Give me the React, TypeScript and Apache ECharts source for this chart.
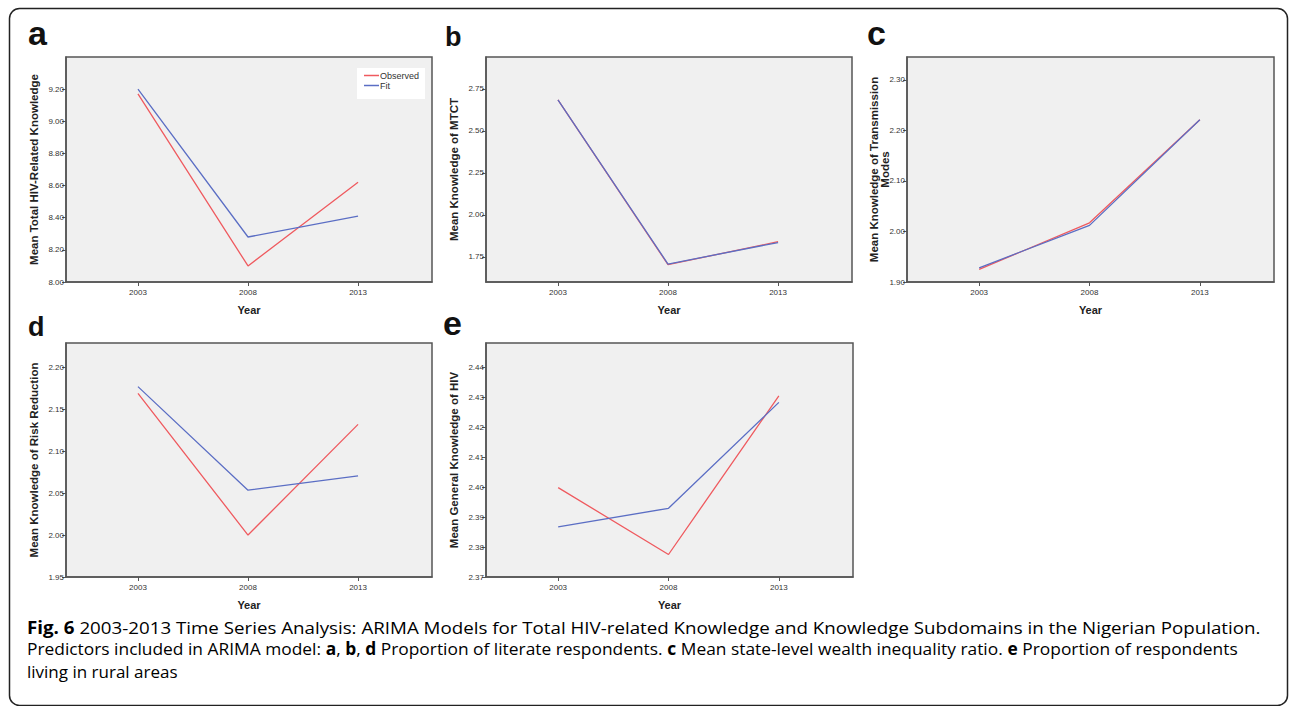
import React, { useEffect, useRef } from "react";
import * as echarts from "echarts";

const years = [2003, 2008, 2013];

const aObserved = [9.17, 8.1, 8.62];
const aFit = [9.2, 8.28, 8.41];
const bObserved = [2.685, 1.703, 1.84];
const bFit = [2.685, 1.707, 1.835];
const cObserved = [1.925, 2.017, 2.221];
const cFit = [1.928, 2.012, 2.221];
const dObserved = [2.169, 2.0, 2.132];
const dFit = [2.177, 2.0535, 2.0705];
const eObserved = [2.3998, 2.3775, 2.4304];
const eFit = [2.3867, 2.3929, 2.4282];

const aTicks = [8.0, 8.2, 8.4, 8.6, 8.8, 9.0, 9.2];
const bTicks = [1.75, 2.0, 2.25, 2.5, 2.75];
const cTicks = [1.9, 2.0, 2.1, 2.2, 2.3];
const dTicks = [1.95, 2.0, 2.05, 2.1, 2.15, 2.2];
const eTicks = [2.37, 2.38, 2.39, 2.4, 2.41, 2.42, 2.43, 2.44];

const panelLetters = ["a", "b", "c", "d", "e"];
const yTitles = [
  "Mean Total HIV-Related Knowledge",
  "Mean Knowledge of MTCT",
  "Mean Knowledge of Transmission\nModes",
  "Mean Knowledge of Risk Reduction",
  "Mean General Knowledge of HIV",
];
const xTitle = "Year";
const seriesNames = ["Observed", "Fit"];

// caption lines: [text, bold]
const captionLine1: [string, boolean][] = [
  ["Fig. 6", true],
  [" 2003-2013 Time Series Analysis: ARIMA Models for Total HIV-related Knowledge and Knowledge Subdomains in the Nigerian Population.", false],
];
const captionLine2: [string, boolean][] = [
  ["Predictors included in ARIMA model: ", false],
  ["a", true],
  [", ", false],
  ["b", true],
  [", ", false],
  ["d", true],
  [" Proportion of literate respondents. ", false],
  ["c", true],
  [" Mean state-level wealth inequality ratio. ", false],
  ["e", true],
  [" Proportion of respondents", false],
];
const captionLine3: [string, boolean][] = [["living in rural areas", false]];

const FONT = 'Arial, "Liberation Sans", sans-serif';
const CAP_FONT = '"Open Sans", sans-serif';
const CAP_SIZE = 17;
const RED = "#ef5a5f";
const BLUE = "#5b6ec4";
const FRAME = "#555";

function buildLine(segs: [string, boolean][], target: number | null) {
  const canvas = document.createElement("canvas");
  const ctx = canvas.getContext("2d")!;
  let natural = 0;
  let out = "";
  for (const [txt, b] of segs) {
    ctx.font = `${b ? "bold " : ""}${CAP_SIZE}px ${CAP_FONT}`;
    natural += ctx.measureText(txt).width;
    out += b ? `{b|${txt}}` : `{n|${txt}}`;
  }
  const scale = target && natural > 0 ? target / natural : 1;
  return { text: out, scale };
}

export default function App() {
  const ref = useRef<HTMLDivElement>(null);
  useEffect(() => {
    document.body.style.margin = "0";
    const chart = echarts.init(ref.current!, null, { renderer: "svg" });

    const grids = [
      { left: 66, top: 57, width: 366, height: 225 },
      { left: 486, top: 57, width: 366, height: 225 },
      { left: 907, top: 57, width: 367, height: 225 },
      { left: 66, top: 343, width: 366, height: 234 },
      { left: 486, top: 343, width: 367, height: 234 },
    ];
    const yRanges = [
      [8.0, 9.4],
      [1.6, 2.94],
      [1.9, 2.345],
      [1.95, 2.229],
      [2.37, 2.448],
    ];
    const yTicks = [aTicks, bTicks, cTicks, dTicks, eTicks];
    const obs = [aObserved, bObserved, cObserved, dObserved, eObserved];
    const fit = [aFit, bFit, cFit, dFit, eFit];

    const capX = 27;
    const lines = [
      buildLine(captionLine1, 1262 - capX),
      buildLine(captionLine2, 1238 - capX),
      buildLine(captionLine3, null),
    ];
    const capTexts = lines.map((l, i) => ({
      type: "text",
      x: capX,
      y: 627 + i * 22,
      scaleX: l.scale,
      style: {
        text: l.text,
        verticalAlign: "middle",
        rich: {
          n: { fontFamily: CAP_FONT, fontSize: CAP_SIZE, color: "#231f20" },
          b: { fontFamily: CAP_FONT, fontSize: CAP_SIZE, fontWeight: "bold", color: "#231f20" },
        },
      },
    }));

    const option: any = {
      animation: false,
      backgroundColor: "#fff",
      textStyle: { fontFamily: FONT },
      legend: {
        left: 357,
        top: 68,
        orient: "vertical",
        backgroundColor: "#fff",
        padding: [3, 6, 9, 7],
        itemGap: 1,
        itemWidth: 15,
        itemHeight: 1.5,
        icon: "rect",
        textStyle: { fontSize: 9, color: "#333", fontFamily: FONT, padding: [0, 0, 0, -4] },
        data: seriesNames,
      },
      grid: grids.map((g) => ({
        ...g,
        show: true,
        backgroundColor: "#f0f0f0",
        borderColor: FRAME,
        borderWidth: 1.5,
      })),
      xAxis: grids.map((_, i) => ({
        type: "value",
        gridIndex: i,
        min: 1999.73,
        max: 2016.36,
        name: xTitle,
        nameLocation: "middle",
        nameGap: 22,
        nameMoveOverlap: false,
        nameTextStyle: { fontWeight: "bold", fontSize: 11, color: "#222", fontFamily: FONT },
        axisLine: { show: true, lineStyle: { color: FRAME, width: 1.5 } },
        axisTick: { show: true, length: 4, lineStyle: { color: FRAME }, customValues: years },
        axisLabel: {
          fontSize: 8,
          color: "#333",
          margin: 6,
          fontFamily: FONT,
          customValues: years,
          formatter: (v: number) => String(Math.round(v)),
        },
        splitLine: { show: false },
      })),
      yAxis: grids.map((_, i) => ({
        type: "value",
        gridIndex: i,
        min: yRanges[i][0],
        max: yRanges[i][1],
        name: yTitles[i],
        nameLocation: "middle",
        nameRotate: 90,
        nameGap: i === 2 ? 17 : 27,
        nameMoveOverlap: false,
        nameTextStyle: {
          fontWeight: "bold",
          fontSize: 11.5,
          color: "#222",
          fontFamily: FONT,
          lineHeight: 11,
        },
        axisLine: { show: true, lineStyle: { color: FRAME, width: 1.5 } },
        axisTick: { show: true, length: 4, lineStyle: { color: FRAME }, customValues: yTicks[i] },
        axisLabel: {
          fontSize: 8,
          color: "#333",
          margin: 2,
          fontFamily: FONT,
          customValues: yTicks[i],
          formatter: (v: number) => v.toFixed(2),
        },
        splitLine: { show: false },
      })),
      series: grids.flatMap((_, i) => [
        {
          name: seriesNames[0],
          type: "line",
          xAxisIndex: i,
          yAxisIndex: i,
          symbol: "none",
          lineStyle: { color: RED, width: 1.3 },
          itemStyle: { color: RED },
          data: years.map((y, k) => [y, obs[i][k]]),
        },
        {
          name: seriesNames[1],
          type: "line",
          xAxisIndex: i,
          yAxisIndex: i,
          symbol: "none",
          lineStyle: { color: BLUE, width: 1.3 },
          itemStyle: { color: BLUE },
          data: years.map((y, k) => [y, fit[i][k]]),
        },
      ]),
      graphic: [
        {
          type: "rect",
          shape: { x: 9.5, y: 8.5, width: 1278, height: 697, r: 10 },
          style: { fill: "none", stroke: "#222", lineWidth: 1.5 },
          z: 100,
        },
        ...[
          { t: panelLetters[0], x: 28, y: 50, s: 34 },
          { t: panelLetters[1], x: 445, y: 50, s: 27 },
          { t: panelLetters[2], x: 867, y: 50, s: 34 },
          { t: panelLetters[3], x: 28, y: 340, s: 27 },
          { t: panelLetters[4], x: 443, y: 340, s: 34 },
        ].map((p) => ({
          type: "text",
          x: p.x,
          y: p.y,
          style: {
            text: p.t,
            font: `bold ${p.s}px Arial, "Liberation Sans", sans-serif`,
            fill: "#111",
            verticalAlign: "bottom",
          },
        })),
        ...capTexts,
      ],
    };
    chart.setOption(option);
    return () => chart.dispose();
  }, []);
  return <div ref={ref} style={{ width: 1290, height: 706 }} />;
}
